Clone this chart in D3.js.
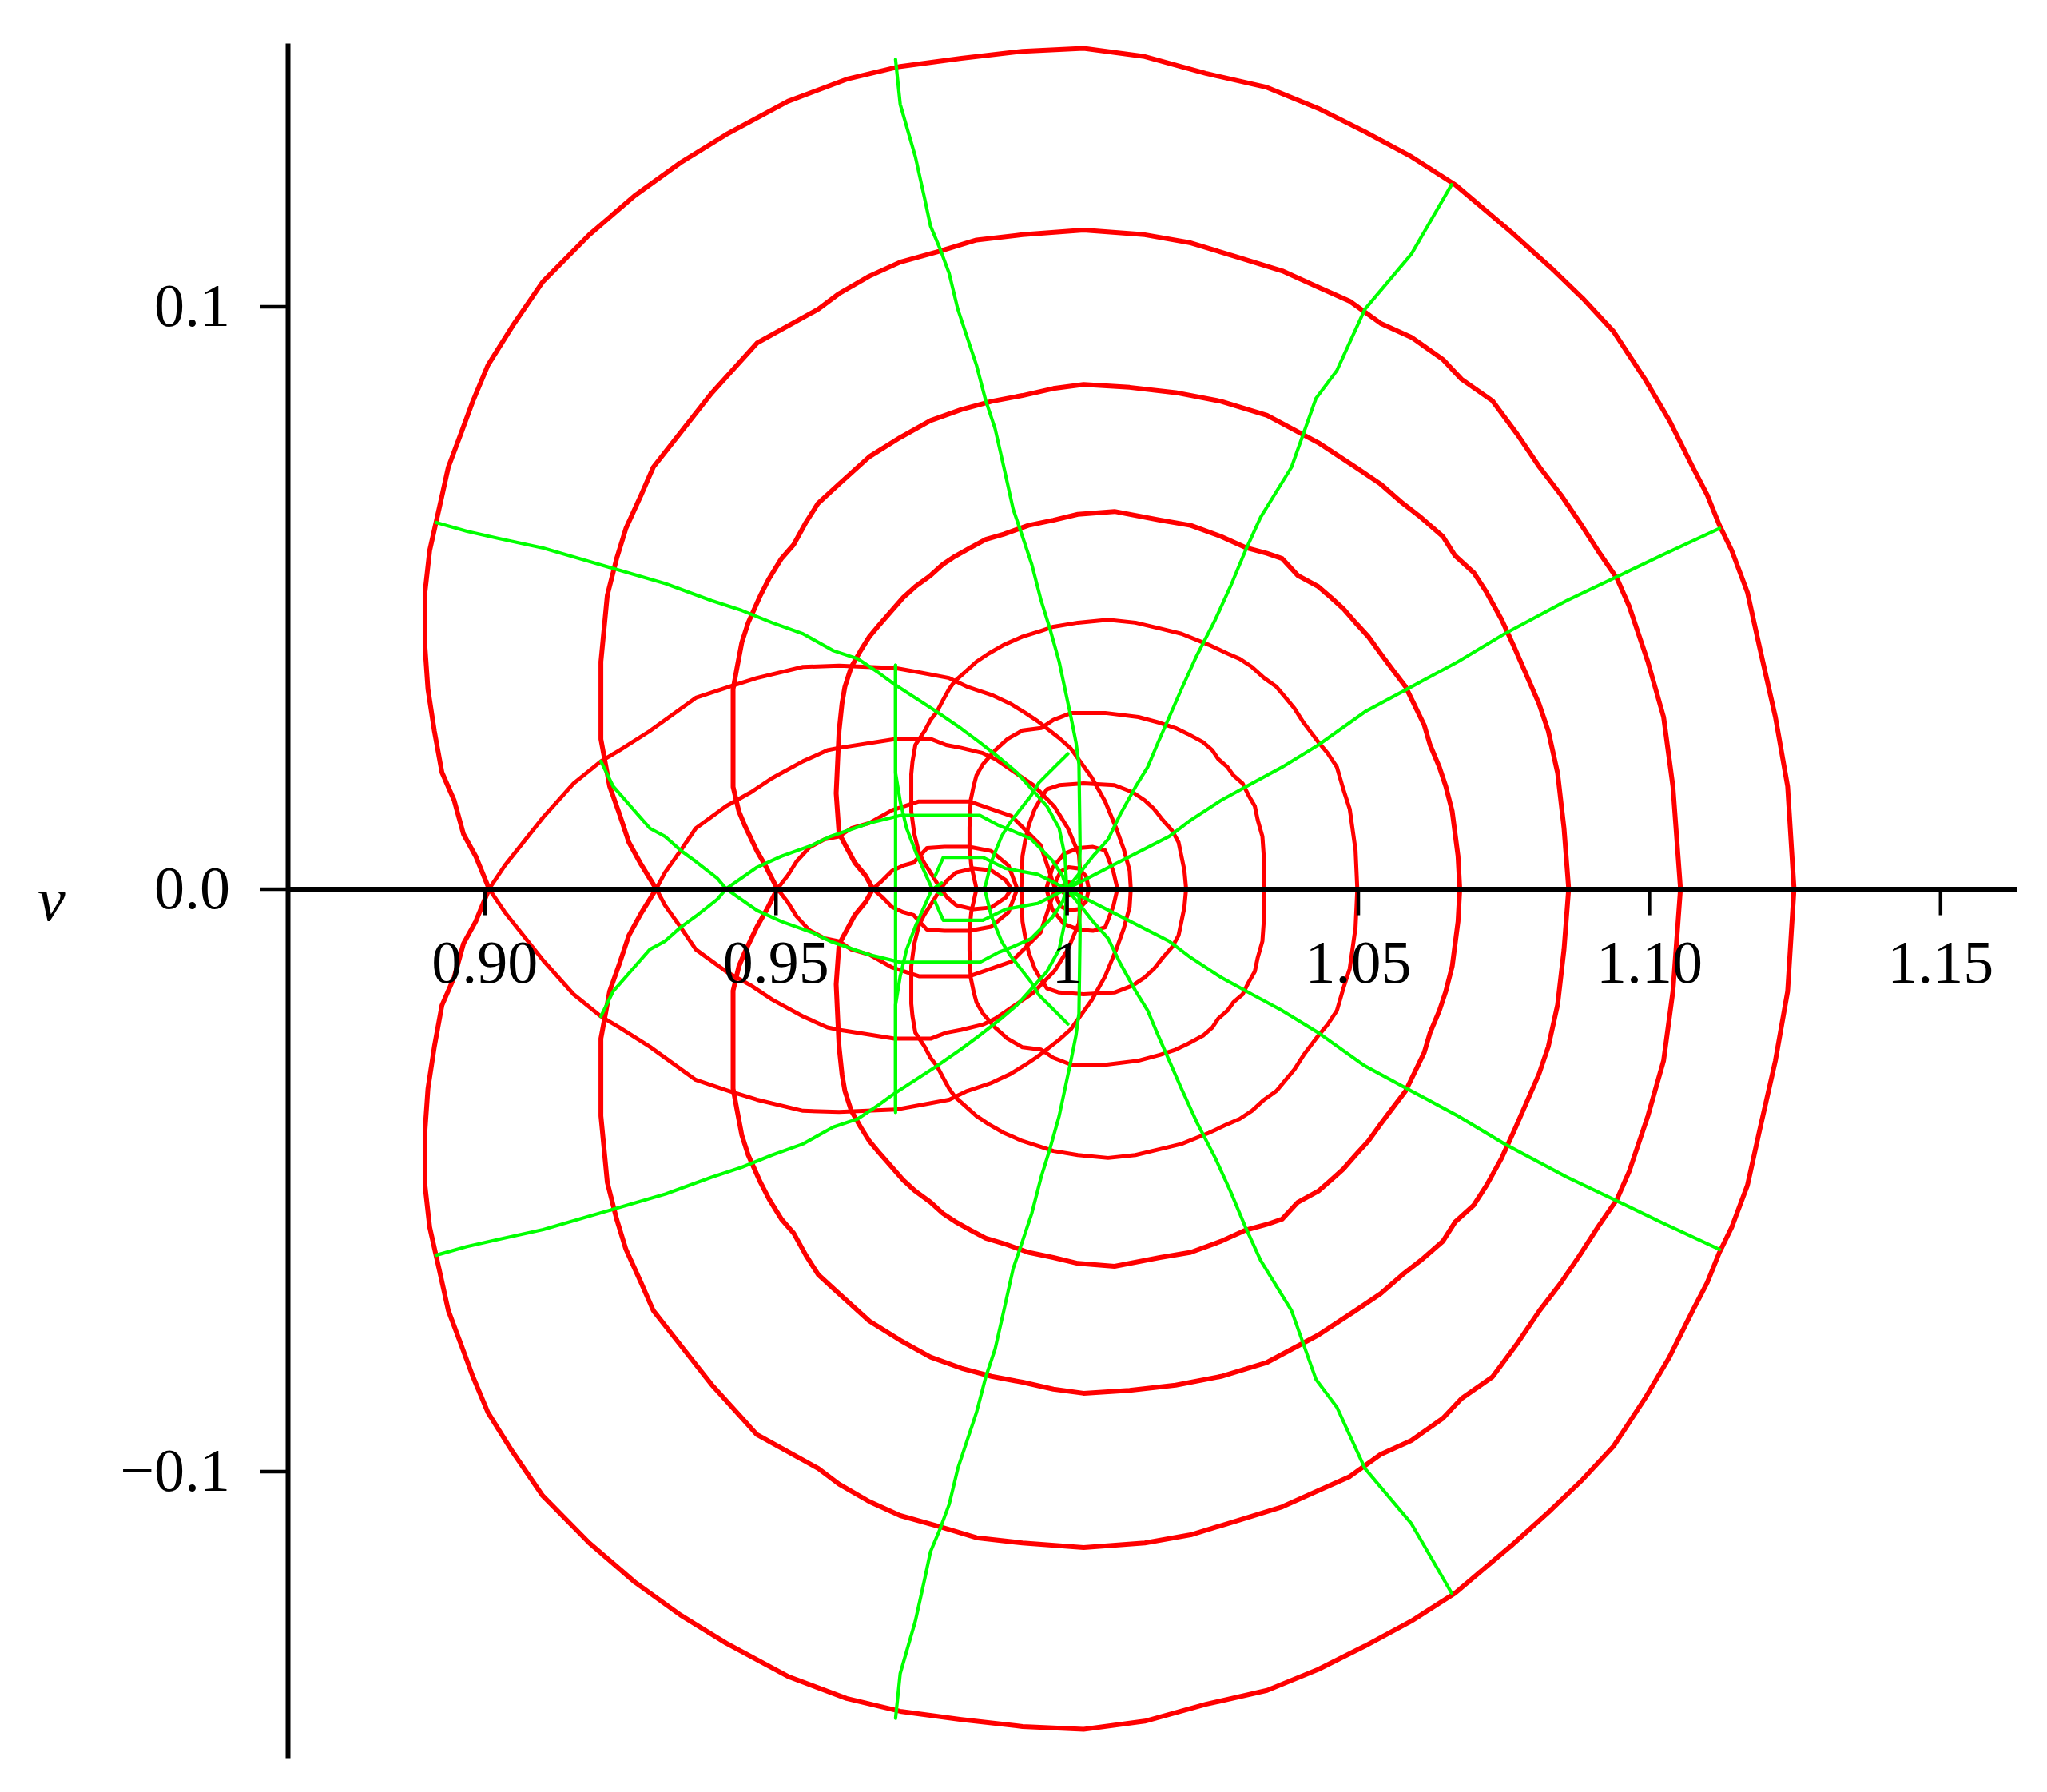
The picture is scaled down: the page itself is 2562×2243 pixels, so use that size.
<!DOCTYPE html>
<html><head><meta charset="utf-8">
<script src="https://cdn.jsdelivr.net/npm/d3@7"></script>
<style>body{margin:0;background:#fff}</style>
</head><body>
<svg id="c" width="2562" height="2243" xmlns="http://www.w3.org/2000/svg"></svg>
<script>
// ---- tick values / labels ----
const xTicks = [0.90, 0.95, 1, 1.05, 1.10, 1.15];
const xTickLabels = ["0.90", "0.95", "1", "1.05", "1.10", "1.15"];
const yTicks = [-0.1, 0, 0.1];
const yTickLabels = ["\u22120.1", "0.0", "0.1"];
const yAxisLabel = "v";

// ---- red curves (upper half; plot is symmetric about v = 0) ----
// outer laps: from right intercept over the top to the left crossing
const redL1 = [[1.1249,0],[1.1238,0.0176],[1.1217,0.0295],[1.119,0.0414],[1.1169,0.0509],[1.1142,0.0581],[1.1121,0.0624],[1.11,0.0676],[1.1075,0.0724],[1.1035,0.0804],[1.0993,0.0875],[1.0939,0.0957],[1.0886,0.1014],[1.0832,0.1066],[1.0763,0.1128],[1.0667,0.1209],[1.0592,0.1257],[1.0512,0.13],[1.0432,0.134],[1.0344,0.1376],[1.0239,0.14],[1.0134,0.1429],[1.0029,0.1443],[0.9924,0.1438],[0.9819,0.1426],[0.9714,0.1412],[0.9622,0.139],[0.9521,0.1352],[0.9415,0.1295],[0.9337,0.1247],[0.9258,0.119],[0.918,0.1123],[0.91,0.1042],[0.9048,0.0966],[0.9006,0.0899],[0.898,0.0837],[0.8959,0.078],[0.8938,0.0724],[0.8922,0.0652],[0.8906,0.0581],[0.8898,0.051],[0.8898,0.0414],[0.8903,0.0343],[0.8914,0.0271],[0.8927,0.02],[0.8948,0.0152],[0.8964,0.0094],[0.8985,0.0056],[0.9008,0]];
const redL1Inner = [[0.9008,0],[0.9035,0.004],[0.9101,0.0123],[0.9153,0.0181],[0.92,0.0219],[0.9232,0.0238],[0.9284,0.0271],[0.9363,0.0328],[0.942,0.0347],[0.9468,0.0362],[0.9547,0.0381],[0.9609,0.0383],[0.9706,0.0379],[0.975,0.0371],[0.9798,0.0362],[0.9829,0.0347],[0.9871,0.0333],[0.9903,0.0318],[0.9929,0.0302],[0.995,0.0288],[0.9987,0.0259],[1.0007,0.0241],[1.0043,0.0191],[1.0066,0.015],[1.0085,0.0104],[1.0098,0.0068],[1.0108,0.0031],[1.011,0]];
const redL2 = [[1.1054,0],[1.1041,0.0176],[1.1025,0.0295],[1.0998,0.039],[1.0966,0.0485],[1.0945,0.0533],[1.0912,0.0581],[1.0881,0.0629],[1.0849,0.0676],[1.0812,0.0724],[1.0774,0.078],[1.0731,0.0838],[1.0678,0.0875],[1.0646,0.0909],[1.0592,0.0947],[1.0539,0.0971],[1.0486,0.1009],[1.0432,0.1033],[1.037,0.1061],[1.0292,0.1085],[1.0213,0.1109],[1.0134,0.1123],[1.0029,0.1131],[0.9924,0.1123],[0.9845,0.1114],[0.9782,0.1095],[0.9714,0.1076],[0.9661,0.1052],[0.9609,0.1022],[0.9573,0.0995],[0.9468,0.0937],[0.939,0.0851],[0.9342,0.079],[0.929,0.0724],[0.9269,0.0676],[0.9243,0.0619],[0.9227,0.0567],[0.9211,0.0504],[0.92,0.039],[0.92,0.0257],[0.9215,0.0176],[0.9232,0.0128],[0.9248,0.008],[0.9269,0.0042],[0.9295,0]];
const redL2Inner = [[0.9295,0],[0.931,0.0028],[0.9337,0.0066],[0.9363,0.0104],[0.9415,0.0142],[0.9458,0.0166],[0.9494,0.019],[0.9547,0.0219],[0.9589,0.0238],[0.9609,0.0242],[0.9704,0.0257],[0.9767,0.0257],[0.9793,0.0247],[0.9819,0.0242],[0.9856,0.0233],[0.9877,0.0223],[0.9943,0.0178],[0.9979,0.0141],[1.0002,0.0104],[1.0021,0.0059],[1.0025,0]];
const redL3 = [[1.0862,0],[1.0854,0.0104],[1.0843,0.0199],[1.0827,0.0271],[1.0811,0.0318],[1.079,0.0366],[1.0769,0.0414],[1.0747,0.0462],[1.0721,0.0509],[1.0699,0.0543],[1.0667,0.0572],[1.0646,0.0605],[1.0608,0.0638],[1.0577,0.0662],[1.0539,0.0695],[1.0496,0.0724],[1.0432,0.0766],[1.0344,0.0813],[1.0265,0.0837],[1.0187,0.0852],[1.0108,0.0861],[1.0029,0.0866],[0.9977,0.0859],[0.9924,0.0847],[0.9871,0.0837],[0.9819,0.0823],[0.9766,0.0804],[0.9714,0.0775],[0.9661,0.0742],[0.9609,0.0695],[0.9573,0.0662],[0.9552,0.0629],[0.9531,0.0591],[0.951,0.0567],[0.9489,0.0533],[0.9474,0.0504],[0.9453,0.0457],[0.9442,0.0423],[0.9434,0.0381],[0.9427,0.0343],[0.9427,0.0247],[0.9427,0.0175],[0.9437,0.0133],[0.9447,0.0109],[0.9468,0.0065],[0.9484,0.0037],[0.9503,0]];
const redL3Inner = [[0.9503,0],[0.9521,0.0023],[0.9536,0.0047],[0.9558,0.0071],[0.9584,0.0085],[0.9609,0.009],[0.963,0.0104],[0.9661,0.0113],[0.97,0.0135],[0.9746,0.015],[0.9833,0.015],[0.9905,0.0125],[0.9955,0.0075],[0.998,0]];
const redL4 = [[1.0675,0],[1.0672,0.0056],[1.0662,0.0133],[1.0651,0.0176],[1.064,0.0209],[1.0624,0.0247],[1.0614,0.0281],[1.0598,0.0314],[1.0582,0.0347],[1.056,0.0376],[1.0539,0.0404],[1.0518,0.0433],[1.0496,0.0457],[1.0475,0.0481],[1.0454,0.05],[1.0432,0.0519],[1.0397,0.0538],[1.037,0.0567],[1.0344,0.0576],[1.0307,0.0586],[1.0265,0.0605],[1.0213,0.0624],[1.016,0.0633],[1.0082,0.0648],[1.0019,0.0643],[0.9977,0.0633],[0.9934,0.0624],[0.9892,0.0609],[0.9861,0.06],[0.9835,0.0586],[0.9808,0.0571],[0.9787,0.0557],[0.9766,0.0538],[0.974,0.0519],[0.9719,0.05],[0.9698,0.0476],[0.9677,0.0452],[0.9661,0.0433],[0.9646,0.0409],[0.963,0.0381],[0.9619,0.0347],[0.9614,0.0318],[0.9609,0.0271],[0.9604,0.0164],[0.9609,0.0095],[0.9636,0.0045],[0.9655,0.0022],[0.9667,0]];
const redL4Inner = [[0.9667,0],[0.9682,0.0013],[0.97,0.0031],[0.9719,0.004],[0.9737,0.0045],[0.976,0.007],[0.979,0.0072],[0.9833,0.0072],[0.987,0.0065],[0.99,0.004],[0.9915,0]];
const redL5 = [[1.0499,0],[1.0496,0.0066],[1.0486,0.0137],[1.0475,0.0171],[1.0464,0.0209],[1.0448,0.0233],[1.0432,0.0252],[1.0407,0.0285],[1.0391,0.031],[1.0376,0.0328],[1.036,0.0347],[1.0339,0.0362],[1.0318,0.0381],[1.0297,0.0395],[1.0276,0.0404],[1.0244,0.0419],[1.0197,0.0438],[1.016,0.0447],[1.0118,0.0457],[1.0071,0.0462],[1.0019,0.0457],[0.9977,0.045],[0.9956,0.0443],[0.9924,0.0433],[0.9892,0.0419],[0.9866,0.0404],[0.9845,0.039],[0.9824,0.0371],[0.9808,0.0357],[0.9798,0.0343],[0.9787,0.0323],[0.9777,0.0304],[0.9766,0.029],[0.9756,0.0271],[0.974,0.0247],[0.9735,0.0218],[0.9733,0.0197],[0.9733,0.0133],[0.9738,0.0095],[0.9746,0.0063],[0.9755,0.0045],[0.9764,0.0031],[0.9773,0.0017],[0.9783,0]];
const redL5Inner = [[0.9783,0],[0.9795,0.0015],[0.981,0.0028],[0.984,0.0035],[0.987,0.0032],[0.9895,0.0015],[0.9905,0]];
const redL6 = [[1.0339,0],[1.0339,0.0047],[1.0336,0.009],[1.0328,0.0118],[1.0323,0.0142],[1.0312,0.0161],[1.0302,0.0181],[1.0286,0.0195],[1.0276,0.0209],[1.026,0.0223],[1.025,0.0238],[1.0234,0.0252],[1.0208,0.0266],[1.0187,0.0276],[1.016,0.0285],[1.0123,0.0295],[1.0066,0.0302],[1.0008,0.0302],[0.9977,0.029],[0.9956,0.0276],[0.9924,0.0272],[0.9898,0.0257],[0.9877,0.0238],[0.9856,0.0214],[0.9845,0.0195],[0.984,0.0176],[0.9835,0.0152],[0.9833,0.0105],[0.9833,0.0072],[0.9836,0.004],[0.9845,0]];
const redL7 = [[1.0205,0],[1.0202,0.0032],[1.0197,0.0056],[1.0192,0.008],[1.0181,0.01],[1.0165,0.0118],[1.015,0.0137],[1.0134,0.0152],[1.0113,0.0166],[1.0082,0.0178],[1.0029,0.0181],[0.9987,0.0178],[0.9966,0.0171],[0.9956,0.0156],[0.9945,0.0137],[0.9935,0.011],[0.9929,0.0085],[0.9924,0.0056],[0.9922,0]];
const redL8 = [[1.0087,0],[1.008,0.003],[1.0066,0.0066],[1.0045,0.0072],[1.002,0.007],[0.9995,0.006],[0.9975,0.0035],[0.9965,0]];
const redL9 = [[1.0038,0],[1.0033,0.0022],[1.002,0.0035],[1.0003,0.0037],[0.999,0.003],[0.9982,0.0015],[0.998,0]];
const redL10 = [[1.0012,0],[1.0008,0.001],[1.0,0.0012],[0.9994,0.0006],[0.9993,0]];

// ---- green curves (upper half, from outer end toward the centre) ----
const greenA = [[0.9706,0.1424],[0.9714,0.1347],[0.974,0.1257],[0.9756,0.1185],[0.9766,0.1138],[0.9782,0.110],[0.9798,0.1057],[0.9813,0.0995],[0.9829,0.0947],[0.9845,0.0899],[0.9861,0.0838],[0.9877,0.079],[0.9892,0.0724],[0.9908,0.0652],[0.9924,0.0605],[0.994,0.0557],[0.9956,0.0495],[0.9971,0.0447],[0.9987,0.039],[0.9997,0.0343],[1.0007,0.0296],[1.0016,0.0251],[1.0021,0.0214],[1.0023,0.0068],[1.0021,0.0013],[1.0,0]];
const greenB = [[1.0661,0.1209],[1.0592,0.109],[1.0512,0.0995],[1.0464,0.089],[1.0428,0.0842],[1.0386,0.0724],[1.0333,0.0638],[1.0307,0.0581],[1.0281,0.0519],[1.0255,0.0462],[1.0223,0.04],[1.0197,0.0343],[1.0176,0.0295],[1.0155,0.0247],[1.0139,0.0209],[1.0118,0.0175],[1.0092,0.0128],[1.0071,0.0085],[1.0045,0.0056],[1.0023,0.0028],[1.0,0]];
const greenC = [[1.1121,0.0619],[1.102,0.0572],[1.0939,0.0533],[1.0859,0.0495],[1.0752,0.0438],[1.0672,0.039],[1.0592,0.0347],[1.0512,0.0304],[1.0432,0.0247],[1.037,0.0209],[1.0318,0.0181],[1.0265,0.0152],[1.0213,0.0118],[1.0176,0.009],[1.0129,0.0066],[1.0082,0.0042],[1.0045,0.0023],[1.0,0]];
const greenD = [[0.8917,0.0629],[0.897,0.0614],[0.9023,0.0602],[0.9101,0.0585],[0.918,0.0562],[0.9232,0.0547],[0.9311,0.0524],[0.939,0.0495],[0.9442,0.0478],[0.9494,0.0457],[0.9547,0.0438],[0.9599,0.0409],[0.9641,0.0395],[0.9677,0.0371],[0.9703,0.0352],[0.974,0.0328],[0.9777,0.0304],[0.9819,0.0275],[0.985,0.0252],[0.9887,0.0223],[0.9914,0.02],[0.994,0.0171],[0.9966,0.0142],[0.9987,0.0104],[0.9997,0.0056],[1.0,0]];
const greenE = [[0.92,0.0219],[0.9221,0.0176],[0.9242,0.0152],[0.9284,0.0104],[0.931,0.009],[0.9337,0.0066],[0.9363,0.0047],[0.94,0.0018],[0.9415,0],[0.9468,-0.0037],[0.951,-0.0056],[0.9563,-0.0075],[0.9594,-0.009],[0.9661,-0.0113],[0.9714,-0.0126],[0.9851,-0.0126],[0.9883,-0.0109],[0.9906,-0.01],[0.9938,-0.0086],[0.9975,-0.0049],[0.9993,-0.0022],[1.0,0]];
const greenF = [[0.9706,0.0384],[0.9706,0.0199],[0.9714,0.015],[0.9725,0.0104],[0.9741,0.0062],[0.9768,0.0002],[0.9785,-0.001]];
const greenFStraight = [[0.9706,0.0384],[0.9706,-0.0378]];
const greenG = [[1.0002,0.0232],[0.9975,0.0205],[0.9952,0.0182],[0.9938,0.0159],[0.992,0.0136],[0.9902,0.0113],[0.9888,0.009],[0.9879,0.0068],[0.987,0.0045],[0.9861,0.0008],[0.9858,0]];
const greenH = [[0.9774,0.0022],[0.9788,0.0054],[0.9856,0.0054],[0.9895,0.0035],[0.995,0.0025],[1.0,0]];

const redOuter = [redL1, redL2, redL3, redL4, redL5, redL6, redL7, redL8, redL9, redL10];
const redInner = [redL1Inner, redL2Inner, redL3Inner, redL4Inner, redL5Inner];
const greenRays = [greenA, greenB, greenC, greenD, greenE, greenF, greenG, greenH];

// ---- drawing ----
const svg = d3.select("#c");
const x = d3.scaleLinear().domain([0.8662, 1.1632]).range([360, 2524.5]);
const y = d3.scaleLinear().domain([-0.1493, 0.1452]).range([2201, 54]);
const line = d3.line().x(d => x(d[0])).y(d => y(d[1]));
const mirror = arr => arr.map(d => [d[0], -d[1]]);
const closed = arr => arr.concat(mirror(arr).reverse());

const gRed = svg.append("g").attr("fill", "none").attr("stroke", "#ff0000")
  .attr("stroke-linejoin", "round").attr("stroke-linecap", "round");
redOuter.forEach((c, i) => gRed.append("path").attr("d", line(closed(c)))
  .attr("stroke-width", i < 4 ? 6 : 5));
redInner.forEach(c => gRed.append("path").attr("d", line(closed(c))).attr("stroke-width", 5));

const gGreen = svg.append("g").attr("fill", "none").attr("stroke", "#00ff00")
  .attr("stroke-width", 4.2).attr("stroke-linejoin", "round").attr("stroke-linecap", "round");
greenRays.forEach(c => {
  gGreen.append("path").attr("d", line(c));
  gGreen.append("path").attr("d", line(mirror(c)));
});
gGreen.append("path").attr("d", line(greenFStraight));

// axes
const font = "'Liberation Serif', 'Times New Roman', serif";
const xAxis = d3.axisBottom(x).tickValues(xTicks).tickFormat((d, i) => xTickLabels[i])
  .tickSize(33).tickSizeOuter(0).tickPadding(30);
const gx = svg.append("g").attr("transform", `translate(0,${y(0)})`).call(xAxis);
const yAxis = d3.axisLeft(y).tickValues(yTicks).tickFormat((d, i) => yTickLabels[i])
  .tickSize(34).tickSizeOuter(0).tickPadding(38);
const gy = svg.append("g").attr("transform", `translate(${x(0.8662)},0)`).call(yAxis);
[gx, gy].forEach(g => {
  g.select(".domain").attr("stroke", "#000").attr("stroke-width", 6);
  g.selectAll(".tick line").attr("stroke", "#000").attr("stroke-width", 4.5);
  g.selectAll(".tick text").attr("fill", "#000").attr("font-family", font).attr("font-size", 76);
});
svg.append("text").attr("x", 47).attr("y", 1152).attr("font-family", font)
  .attr("font-style", "italic").attr("font-size", 78).attr("fill", "#000").text(yAxisLabel);
</script>
</body></html>
